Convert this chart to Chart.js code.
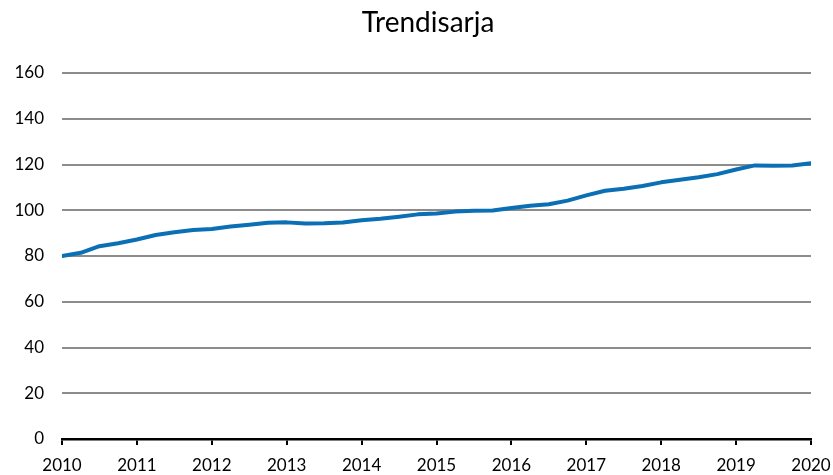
<!DOCTYPE html>
<html>
<head>
<meta charset="utf-8">
<script src="https://cdn.jsdelivr.net/npm/chart.js@4/dist/chart.umd.min.js"></script>
<style>
  html, body { margin: 0; padding: 0; background: #fff; }
  #wrap { width: 833px; height: 475px; }
</style>
</head>
<body>
<div id="wrap"><canvas id="trend" width="833" height="475"></canvas></div>
<script>
// otsikko ja akselit
const chartTitle = "Trendisarja";
const yTicks = [0, 20, 40, 60, 80, 100, 120, 140, 160];
const yearTicks = [2010, 2011, 2012, 2013, 2014, 2015, 2016, 2017, 2018, 2019, 2020];

// neljännesvuosittaiset arvot 2010Q1 ... 2020Q1
const firstYear = 2010;
const perYear = 4;
const trendValues = [
  80.0, 81.4, 84.3, 85.6,
  87.2, 89.2, 90.4, 91.4,
  91.8, 92.9, 93.7, 94.5,
  94.7, 94.2, 94.3, 94.6,
  95.6, 96.3, 97.2, 98.2,
  98.6, 99.4, 99.8, 99.9,
  101.0, 102.0, 102.6, 104.2,
  106.5, 108.5, 109.4, 110.6,
  112.2, 113.3, 114.4, 115.8,
  117.8, 119.6, 119.5, 119.6,
  120.5
];

let points = [];
for (let i = 0; i < trendValues.length; i++) {
  points.push({ x: firstYear + i / perYear, y: trendValues[i] });
}

const font = "Lato, 'Open Sans', sans-serif";

// otsikko piirretään itse, jotta se on samassa kohdassa kuin Excelissä
const titlePlugin = {
  id: "titleText",
  afterDraw: function (chart) {
    const ctx = chart.ctx;
    ctx.save();
    ctx.font = "28px " + font;
    ctx.fillStyle = "#000";
    ctx.textAlign = "center";
    ctx.textBaseline = "middle";
    ctx.fillText(chartTitle, 428, 23);
    ctx.restore();
  }
};

new Chart(document.getElementById("trend"), {
  type: "line",
  data: {
    datasets: [{
      label: chartTitle,
      data: points,
      borderColor: "#0B6FB5",
      borderWidth: 4,
      pointRadius: 0,
      tension: 0,
      borderCapStyle: "round",
      borderJoinStyle: "round"
    }]
  },
  plugins: [titlePlugin],
  options: {
    responsive: false,
    animation: false,
    layout: { padding: { left: 0, right: 22, top: 73, bottom: 0 } },
    plugins: {
      legend: { display: false },
      tooltip: { enabled: false },
      title: { display: false }
    },
    scales: {
      x: {
        type: "linear",
        min: yearTicks[0],
        max: yearTicks[yearTicks.length - 1],
        afterBuildTicks: function (axis) {
          axis.ticks = yearTicks.map(v => ({ value: v }));
        },
        afterFit: function (axis) {
          axis.height = 36;
          axis.paddingLeft = 0;
          axis.paddingRight = 0;
        },
        border: { display: true, color: "#000", width: 2.5 },
        grid: {
          drawOnChartArea: false,
          drawTicks: true,
          tickLength: 6,
          tickColor: "#000",
          lineWidth: 2
        },
        ticks: {
          color: "#000",
          font: { family: font, size: 17 },
          padding: 10,
          maxRotation: 0,
          callback: v => String(v)
        }
      },
      y: {
        min: yTicks[0],
        max: yTicks[yTicks.length - 1],
        afterBuildTicks: function (axis) {
          axis.ticks = yTicks.map(v => ({ value: v }));
        },
        afterFit: function (axis) { axis.width = 62; },
        border: { display: false },
        grid: {
          color: "#8C8C8C",
          lineWidth: 2,
          drawTicks: false
        },
        ticks: {
          color: "#000",
          font: { family: font, size: 17 },
          padding: 18
        }
      }
    }
  }
});
</script>
</body>
</html>
